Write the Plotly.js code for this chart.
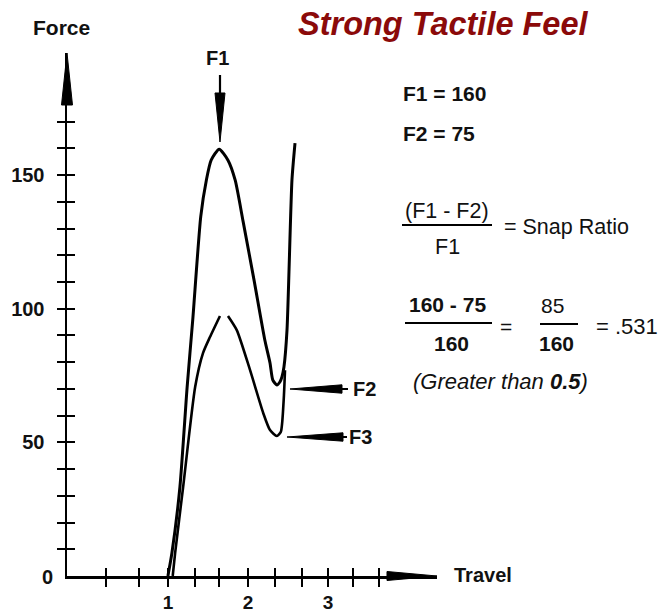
<!DOCTYPE html>
<html><head><meta charset="utf-8">
<script src="https://cdn.plot.ly/plotly-3.0.1.min.js"></script>
<style>html,body{margin:0;padding:0;background:#fff;}#chart{width:671px;height:612px;}</style>
</head><body><div id="chart"></div>
<script>
// ---- data ----
const outerTravel = [1.00, 1.05, 1.15, 1.24, 1.31, 1.41, 1.48, 1.54, 1.64, 1.75, 1.84, 1.94, 2.075, 2.21, 2.275, 2.31, 2.36, 2.398, 2.424, 2.449, 2.487, 2.549, 2.587];
const outerForce  = [0, 8.6, 33.3, 70.7, 95.8, 134.5, 148.1, 155.6, 159.7, 155.6, 148.1, 132.5, 110.8, 88.3, 79.7, 73.3, 71.5, 72.6, 74.5, 78.2, 92.0, 148.2, 162.0];
const innerTravel = [1.06, 1.09, 1.19, 1.34, 1.438, 1.525, 1.65, null, 1.75, 1.86, 2.025, 2.19, 2.275, 2.36, 2.41, 2.424, 2.449, 2.462];
const innerForce  = [0, 8.6, 33.3, 70.7, 83.4, 89.4, 97.3, null, 97.3, 92.0, 77.1, 61.0, 54.6, 52.4, 53.9, 56.5, 67.7, 77.0];
const yTickVals = [10,20,30,40,50,60,70,80,90,100,110,120,130,140,150,160,170];
const yTickText = ['','','','','50','','','','','100','','','','','150','',''];
const xTickVals = [0.227, 0.639, 1, 1.338, 1.638, 2, 2.337, 2.674, 3, 3.31, 3.636];
const xTickText = ['','','1','','','2','','','3','',''];

// ---- geometry ----
const W = 671, H = 612;
const L = 67, R = 437, T = 53, B = 576;
const XR = [-0.26, 4.36], YR = [0, 195.7];
const FONT = 'Liberation Sans, Arial, sans-serif';
const px = p => (p - L) / (R - L);
const py = p => (B - p) / (B - T);

function wedge(tx, ty, bx, by, hw) {
  const dx = bx - tx, dy = by - ty, len = Math.hypot(dx, dy);
  const nx = -dy / len * hw, ny = dx / len * hw;
  const pts = [[tx, ty], [bx + nx, by + ny], [bx - nx, by - ny]];
  const d = pts.map((p, i) => (i ? 'L' : 'M') + px(p[0]).toFixed(5) + ',' + py(p[1]).toFixed(5)).join(' ') + ' Z';
  return {type: 'path', xref: 'paper', yref: 'paper', path: d, fillcolor: '#000', line: {color: '#000', width: 1}};
}
function seg(x0, y0, x1, y1, w) {
  return {type: 'line', xref: 'paper', yref: 'paper', x0: px(x0), y0: py(y0), x1: px(x1), y1: py(y1), line: {color: '#000', width: w || 2}};
}
function ann(text, x, y, size, anchor, extra) {
  return Object.assign({text: text, xref: 'paper', yref: 'paper', x: px(x), y: py(y), showarrow: false,
    xanchor: anchor || 'center', yanchor: 'middle', font: {family: FONT, size: size, color: '#111'}}, extra || {});
}

const traces = [
  {x: outerTravel, y: outerForce, mode: 'lines', line: {color: '#000', width: 3, shape: 'spline', smoothing: 0.6}, hoverinfo: 'skip'},
  {x: innerTravel, y: innerForce, mode: 'lines', line: {color: '#000', width: 2.6, shape: 'spline', smoothing: 0.6}, connectgaps: false, hoverinfo: 'skip'},
  {x: [null], y: [null], xaxis: 'x2', yaxis: 'y2', mode: 'lines', hoverinfo: 'skip'}
];

const shapes = [
  wedge(67, 53, 67, 105, 5.5),
  wedge(437, 576, 387, 576, 4.5),
  wedge(220, 142, 220, 93, 5),
  seg(220, 75, 220, 93, 2.2),
  wedge(290, 389, 342, 389, 4.2),
  seg(342, 389, 348, 389, 2),
  wedge(287, 437, 343, 437, 4.2),
  seg(343, 437, 347, 437, 2),
  seg(402, 225, 492, 225, 2),
  seg(405, 323, 492, 323, 2),
  seg(540, 324, 578, 324, 2)
];

const annotations = [
  ann('<b><i>Strong Tactile Feel</i></b>', 443, 24, 32.5, 'center', {font: {family: FONT, size: 32.5, color: '#8b0a0a'}}),
  ann('<b>Force</b>', 61, 28, 21),
  ann('<b>Travel</b>', 452, 575, 20, 'left'),
  ann('<b>0</b>', 47.5, 577, 20),
  ann('<b>F1</b>', 217, 58, 20),
  ann('<b>F2</b>', 351, 389, 20, 'left'),
  ann('<b>F3</b>', 347, 437, 20, 'left'),
  ann('<b>F1 = 160</b>', 401, 94, 21, 'left'),
  ann('<b>F2 = 75</b>', 401, 133, 21, 'left'),
  ann('(F1 - F2)', 447, 211, 21.5),
  ann('F1', 447, 247, 21.5),
  ann('= Snap Ratio', 502, 227, 21.5, 'left'),
  ann('<b>160 - 75</b>', 447, 304, 21),
  ann('=', 506, 326, 21),
  ann('85', 552, 305, 21),
  ann('<b>160</b>', 451, 344, 21),
  ann('<b>160</b>', 556, 344, 21),
  ann('= .531', 594, 326, 22, 'left'),
  ann('<i>(Greater than <b>0.5</b>)</i>', 411, 381, 22, 'left')
];

const axisCommon = {showgrid: false, zeroline: false, fixedrange: true, tickcolor: '#000', tickwidth: 2, ticklen: 8};
const layout = {
  width: W, height: H,
  margin: {l: L, r: W - R, t: T, b: H - B, pad: 0},
  paper_bgcolor: '#fff', plot_bgcolor: '#fff',
  showlegend: false,
  font: {family: FONT, color: '#111'},
  xaxis: Object.assign({}, axisCommon, {range: XR, showline: true, linecolor: '#000', linewidth: 2.5, ticks: 'outside',
    tickmode: 'array', tickvals: xTickVals, ticktext: xTickText, tickfont: {family: FONT, size: 19, color: '#111', weight: 'bold'}}),
  yaxis: Object.assign({}, axisCommon, {range: YR, showline: true, linecolor: '#000', linewidth: 2.5, ticks: 'outside',
    tickmode: 'array', tickvals: yTickVals, ticktext: yTickText, tickfont: {family: FONT, size: 20, color: '#111', weight: 'bold'}, ticklabelstandoff: 8}),
  xaxis2: Object.assign({}, axisCommon, {range: XR, overlaying: 'x', anchor: 'y', side: 'bottom', ticks: 'inside', showline: false,
    tickmode: 'array', tickvals: xTickVals, showticklabels: false}),
  yaxis2: Object.assign({}, axisCommon, {range: YR, overlaying: 'y', anchor: 'x', side: 'left', ticks: 'inside', showline: false,
    tickmode: 'array', tickvals: yTickVals, showticklabels: false}),
  shapes: shapes,
  annotations: annotations
};

Plotly.newPlot('chart', traces, layout, {displayModeBar: false, staticPlot: true});
</script>
</body></html>
